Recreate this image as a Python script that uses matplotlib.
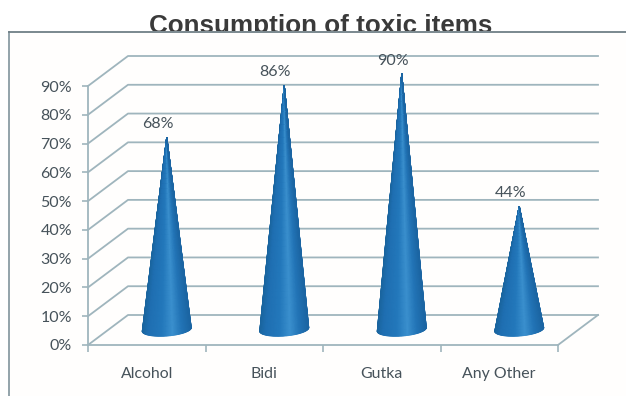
import numpy as np
import matplotlib
matplotlib.use('Agg')
import matplotlib.pyplot as plt
from matplotlib.colors import LinearSegmentedColormap
from matplotlib.lines import Line2D
from matplotlib.patches import Rectangle

categories = ['Alcohol', 'Bidi', 'Gutka', 'Any Other']
values = [68, 86, 90, 44]
yticks = [0, 10, 20, 30, 40, 50, 60, 70, 80, 90]

W, H = 626, 396
grid_col = '#9fb5bd'
text_col = '#46525a'

fig = plt.figure(figsize=(W / 100, H / 100), dpi=100, facecolor='white')

# chart frame: only the top and left edges are visible
fig.add_artist(Rectangle((9 / W, 0), (W - 9) / W, 1 - 32 / H, transform=fig.transFigure,
                         fc='#fffefd', ec='none', zorder=-5))
fig.add_artist(Line2D([9 / W, 9 / W], [0, 1 - 32 / H], color='#8a9ca4', lw=1.3))
fig.add_artist(Line2D([9 / W, 1], [1 - 32 / H, 1 - 32 / H], color='#6f7f86', lw=1.3))

title = fig.text(320.5 / W, 1 - 23.5 / H, 'Consumption of toxic items', family='Liberation Sans',
                 fontsize=18.7, fontweight='bold', color='#3a3a3a', ha='center', va='center_baseline')
title.set_clip_path(Rectangle((0, H - 31), W, 31, transform=None))
title.set_clip_on(True)

ax = fig.add_axes([88 / W, 1 - 345 / H, 470 / W, 259 / H])
ax.set_xlim(0, 4)
ax.set_ylim(0, 90)
ax.patch.set_alpha(0)
for s in ['top', 'right']:
    ax.spines[s].set_visible(False)
for s in ['left', 'bottom']:
    ax.spines[s].set_color(grid_col)
    ax.spines[s].set_linewidth(1.3)

# depth of the 3D box, in data units
dx = 40 / (470 / 4)
dy = 30 / (259 / 90)

for t in yticks:
    ax.plot([0, dx, 4 + dx], [t, t + dy, t + dy], color=grid_col, lw=1.3, clip_on=False, zorder=1)
ax.plot([4, 4 + dx], [0, dy], color=grid_col, lw=1.3, clip_on=False, zorder=1)

ax.set_yticks(yticks)
ax.set_yticklabels(['%d%%' % t for t in yticks], family='Lato', fontsize=11.5, color=text_col)
ax.set_xticks(range(5))
ax.set_xticklabels([])
ax.set_xticks(np.arange(4) + 0.5, categories, minor=True, family='Lato', fontsize=11.4, color=text_col)
ax.tick_params(axis='y', length=4, width=1.2, color=grid_col, pad=7.5)
ax.tick_params(axis='x', which='major', length=5, width=1.2, color=grid_col)
ax.tick_params(axis='x', which='minor', length=0, pad=15.5)

cone_cmap = LinearSegmentedColormap.from_list('cone', [
    (0.0, '#1a659f'), (0.12, '#1f6fb2'), (0.4, '#2378bb'), (0.62, '#3b90ce'), (0.82, '#2274b6'), (1.0, '#1b65a3')])

# cones are drawn as a shaded mesh over the front half of the surface
radius = 24.5 / (470 / 4)
foot = 6.5 / (259 / 90)
tilt = 1.8 / (259 / 90)
base_y = 15.5 / (259 / 90)
theta = np.linspace(np.pi, 2 * np.pi, 60)
v = np.linspace(0, 1, 40)
T, V = np.meshgrid(theta, v)
for i, val in enumerate(values):
    cx = i + 0.5 + dx / 2
    X = cx + radius * np.cos(T) * (1 - V)
    Y = base_y + (foot * np.sin(T) + tilt * np.cos(T)) * (1 - V) + V * (val + dy / 2 - base_y) - V * 1.0
    C = (np.cos(T) + 1) / 2
    ax.pcolormesh(X, Y, C, cmap=cone_cmap, vmin=0, vmax=1, shading='gouraud', clip_on=False, zorder=3)
    ax.annotate('%d%%' % val, (cx, Y[-1, 0]), xytext=(-6.5, 9.5), textcoords='offset points',
                ha='center', va='center', family='Lato', fontsize=11.5, color=text_col,
                annotation_clip=False, zorder=4)

fig.savefig('out.png', dpi=100)
